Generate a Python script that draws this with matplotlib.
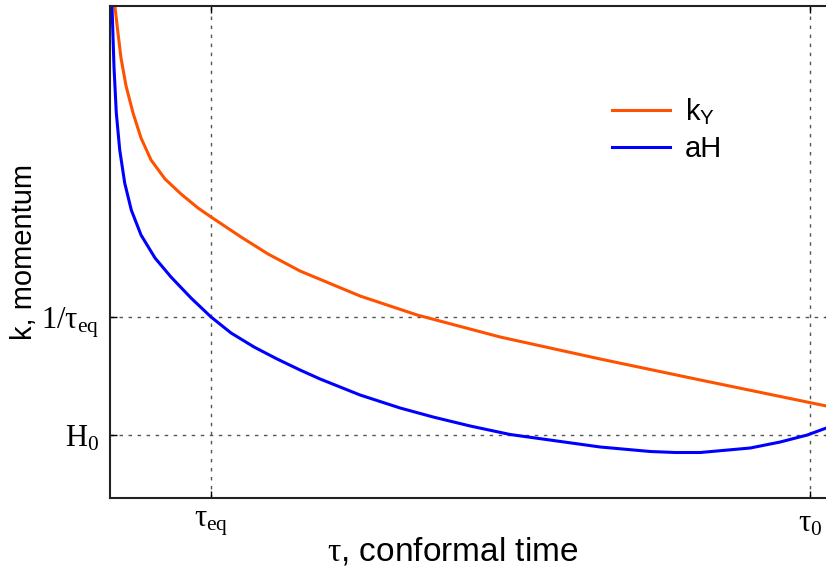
import numpy as np
import matplotlib
matplotlib.use("Agg")
import matplotlib.pyplot as plt

# Values (arbitrary units: tau0 = 1)
tau_eq = 0.144
tau_0 = 1.0
k_eq = 1.81   # 1/tau_eq
H_0 = 0.63

ky_tau = [0.0071, 0.0114, 0.0157, 0.0229, 0.0329, 0.0443, 0.0586, 0.0786, 0.1014,
          0.1257, 0.1443, 0.1871, 0.2257, 0.2714, 0.3571, 0.4386, 0.5571, 0.700,
          0.843, 1.023]
ky_val = [4.91, 4.65, 4.40, 4.12, 3.85, 3.60, 3.38, 3.19, 3.04,
          2.90, 2.81, 2.61, 2.44, 2.27, 2.02, 1.83, 1.61, 1.39,
          1.18, 0.92]

aH_tau = [0.0029, 0.0057, 0.0090, 0.0139, 0.0210, 0.0304, 0.0443, 0.0643, 0.0871,
          0.1157, 0.1443, 0.1729, 0.2057, 0.2386, 0.2714, 0.300, 0.3571, 0.4143,
          0.4614, 0.5143, 0.5714, 0.700, 0.7714, 0.8071, 0.8429, 0.9143, 0.9571,
          0.9957, 1.023]
aH_val = [4.91, 4.31, 3.85, 3.48, 3.15, 2.88, 2.63, 2.40, 2.21,
          2.00, 1.81, 1.65, 1.51, 1.39, 1.28, 1.19, 1.03, 0.90,
          0.81, 0.72, 0.635, 0.51, 0.465, 0.455, 0.455, 0.50, 0.56,
          0.63, 0.70]

plt.rcParams['mathtext.fontset'] = 'custom'
plt.rcParams['mathtext.rm'] = 'Liberation Serif'
plt.rcParams['mathtext.it'] = 'Liberation Serif:italic'
plt.rcParams['mathtext.sf'] = 'Liberation Sans'

fig = plt.figure(figsize=(8.26, 5.75), dpi=100)
ax = fig.add_axes([110 / 826, 1 - 498 / 575, (832 - 110) / 826, (498 - 6) / 575])

ax.plot(ky_tau, ky_val, color='#ff5200', lw=2.2, label=r'k$_{\mathsf{Y}}$')
ax.plot(aH_tau, aH_val, color='#0000ff', lw=2.2, label='aH')

ax.set_xlim(0, 1.031)
ax.set_ylim(0, 4.92)

ax.set_xticks([tau_eq, tau_0])
ax.set_xticklabels([r'$\mathrm{\tau_{eq}}$', r'$\mathrm{\tau_0}$'], fontsize=22)
ax.set_yticks([H_0, k_eq])
ax.set_yticklabels([r'$\mathrm{H_0}$', r'$\mathrm{1/\tau_{eq}}$'], fontsize=22)
ax.tick_params(direction='in', length=5, width=1, top=True, right=True, pad=8)

ax.grid(True, linestyle=(0, (2.5, 4)), color='#555555', lw=1)
for s in ax.spines.values():
    s.set_linewidth(1.5)
    s.set_color('#222222')

ax.set_xlabel(r'$\mathrm{\tau}$, conformal time', fontsize=24, family='Liberation Sans', va='center')
ax.xaxis.set_label_coords(0.474, -0.108)
ax.set_ylabel('k, momentum', fontsize=21, family='Liberation Sans', labelpad=2)

ax.legend(loc='upper left', bbox_to_anchor=(0.695, 0.816), frameon=False,
          prop={'family': 'Liberation Sans', 'size': 21}, handlelength=2.0,
          handletextpad=0.5, labelspacing=0.3, borderpad=0, borderaxespad=0)

fig.savefig('out.png', dpi=100)
